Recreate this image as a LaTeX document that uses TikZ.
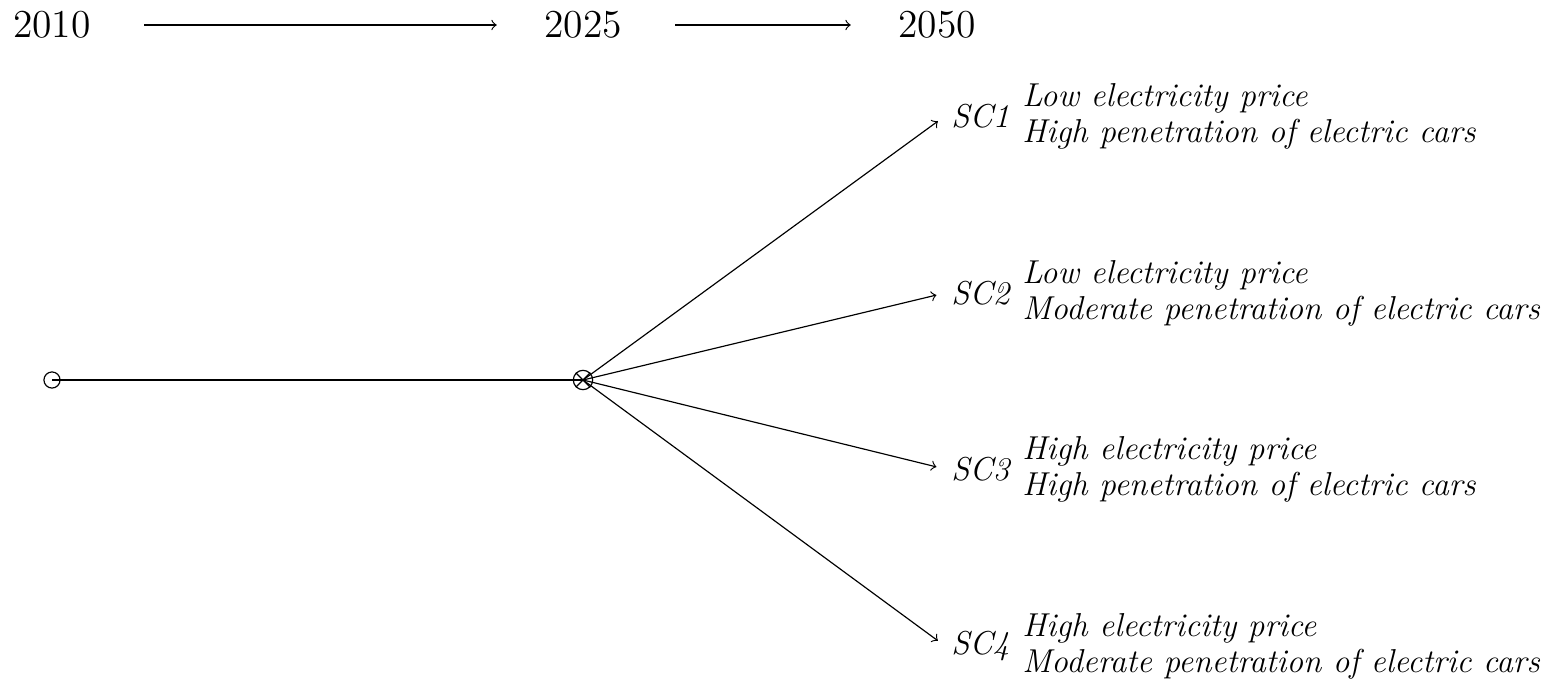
\documentclass[tikz,border=0pt]{standalone}
\usetikzlibrary{positioning}

\begin{document}
\begin{tikzpicture}[x=0.012cm, y=-0.012cm, >=to]
    \definecolor{lineColour}{HTML}{000000}

    \tikzset{
        year/.style={font=\fontsize{13.5}{16}\selectfont, inner sep=0pt},
        node point/.style={circle, draw=lineColour, inner sep=0pt, minimum size=5.5pt},
        scenario/.style={font=\fontsize{11.3}{12.3}\selectfont\itshape, anchor=west, inner sep=2pt},
        desc/.style={font=\fontsize{11.3}{12.3}\selectfont\itshape, align=left, inner sep=2pt}
    }

    \useasboundingbox (0,0) rectangle (1551,678);

    % time line
    \node[year] (y2010) at (52,25) {2010};
    \node[year] (y2025) at (583,25) {2025};
    \node[year] (y2050) at (937,25) {2050};

    \draw[->, lineColour, shorten <=18pt, shorten >=16pt] (y2010) -- (y2025);
    \draw[->, lineColour, shorten <=18pt, shorten >=16pt] (y2025) -- (y2050);

    % decision tree
    \node[node point] (start) at (52,380) {};
    \node[node point, minimum size=6.6pt] (mid) at (583,380) {};
    \draw (mid.north west) -- (mid.south east);
    \draw (mid.north east) -- (mid.south west);

    \draw (start.center) -- (mid.center);

    \foreach \i/\yy/\price/\pen in {1/116/Low/High, 2/293/Low/Moderate, 3/469/High/High, 4/646/High/Moderate}
    {
        \node[scenario] (sc\i) at (945,\yy) {SC\i};
        \node[desc, right=0pt of sc\i] (d\i) {\price{} electricity price\\\pen{} penetration of electric cars};
        \draw[->, shorten >=3pt] (mid.center) -- (sc\i.west);
    }

\end{tikzpicture}
\end{document}
